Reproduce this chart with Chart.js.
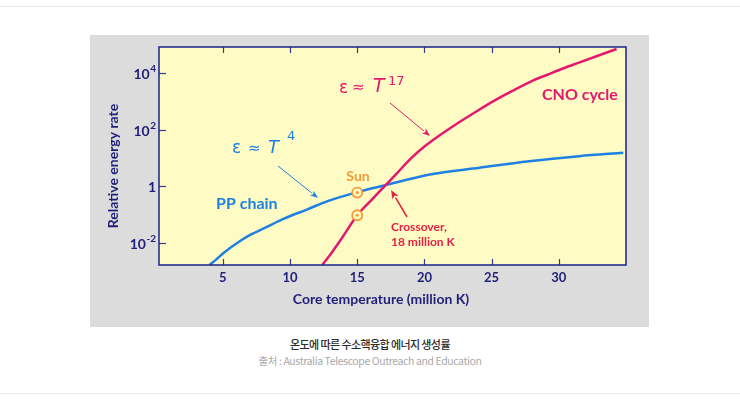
<!DOCTYPE html>
<html><head><meta charset="utf-8">
<script src="https://cdn.jsdelivr.net/npm/chart.js@4.4.1/dist/chart.umd.min.js"></script>
<style>
html,body{margin:0;padding:0;background:#fff;width:740px;height:399px;overflow:hidden;position:relative;}
.rule{position:absolute;left:0;width:740px;height:1px;background:#e6e6e6;}
#box{position:absolute;left:90px;top:35px;width:559px;height:292px;background:#dcdcdc;}
#cap1{position:absolute;left:0;width:740px;top:336px;text-align:center;font:500 11px 'Noto Sans CJK KR',sans-serif;letter-spacing:-0.6px;color:#2a2a2a;}
#cap2{position:absolute;left:0;width:740px;top:353px;text-align:center;font:10.5px 'Noto Sans CJK KR','Noto Sans',sans-serif;letter-spacing:-0.4px;color:#aaa;}
</style></head>
<body>
<div class="rule" style="top:6px"></div>
<div class="rule" style="top:393px"></div>
<div id="box"><canvas id="c" width="559" height="292"></canvas></div>
<div id="cap1">온도에 따른 수소핵융합 에너지 생성률</div>
<div id="cap2">출처 : Australia Telescope Outreach and Education</div>
<script>
// ---- data ----
const tempTicks = [5, 10, 15, 20, 25, 30];
const rateTicks = [0.01, 1, 100, 10000];
const rateTickBase = ['10', '1', '10', '10'];
const rateTickExp = ['-2', '', '2', '4'];
const ppTemp = [4.0, 4.5, 5.1, 6.2, 7.1, 8.2, 9.5, 11.3, 12.8, 14.9, 17.0, 20.4, 24.1, 27.8, 31.5, 34.8];
const ppLog10 = [-2.79, -2.60, -2.35, -1.97, -1.71, -1.46, -1.16, -0.82, -0.53, -0.23, 0.02, 0.41, 0.65, 0.88, 1.06, 1.18];
const cnoTemp = [12.4, 13.0, 13.8, 15.0, 16.0, 17.1, 18.0, 19.0, 20.0, 21.6, 24.1, 25.3, 26.6, 28.1, 29.1, 30.3, 31.5, 34.3];
const cnoLog10 = [-2.79, -2.42, -1.88, -1.03, -0.52, 0.03, 0.48, 0.98, 1.40, 1.95, 2.71, 3.05, 3.38, 3.74, 3.93, 4.16, 4.37, 4.85];
const sunTemp = [15, 15];
const sunLog10 = [-0.23, -1.03];

const toPts = (xs, ls) => xs.map((x, i) => ({x: x, y: Math.pow(10, ls[i])}));

const NAVY = '#1f1f78';
const BLUE = '#1e80e2';
const MAG = '#e5176f';
const RED = '#e61f45';
const ORANGE = '#f59a38';
const OX = 90, OY = 35; // page offset of canvas

function arrow(ctx, x1, y1, x2, y2, color, w, hl, hw) {
  x1 -= OX; x2 -= OX; y1 -= OY; y2 -= OY;
  const a = Math.atan2(y2 - y1, x2 - x1);
  const bx = x2 - hl * Math.cos(a), by = y2 - hl * Math.sin(a);
  ctx.strokeStyle = color; ctx.fillStyle = color; ctx.lineWidth = w;
  ctx.beginPath(); ctx.moveTo(x1, y1); ctx.lineTo(bx, by); ctx.stroke();
  ctx.beginPath();
  ctx.moveTo(x2, y2);
  ctx.lineTo(bx + hw * Math.sin(a), by - hw * Math.cos(a));
  ctx.lineTo(bx + hl*0.25*Math.cos(a), by + hl*0.25*Math.sin(a));
  ctx.lineTo(bx - hw * Math.sin(a), by + hw * Math.cos(a));
  ctx.closePath(); ctx.fill();
}
function txt(ctx, s, x, y, font, color, align) {
  ctx.font = font; ctx.fillStyle = color; ctx.textAlign = align || 'left'; ctx.textBaseline = 'middle';
  ctx.fillText(s, x - OX, y - OY);
}

const frame = {
  id: 'frame',
  beforeDatasetsDraw(chart) {
    const {ctx, chartArea: a} = chart;
    ctx.save();
    ctx.fillStyle = '#fefcc4';
    ctx.fillRect(a.left, a.top, a.width, a.height);
    ctx.restore();
  },
  afterDatasetsDraw(chart) {
    const {ctx, chartArea: a, scales} = chart;
    ctx.save();
    // inward tick marks
    ctx.strokeStyle = '#3a3a88'; ctx.lineWidth = 1.2;
    tempTicks.forEach(v => {
      const x = Math.round(scales.x.getPixelForValue(v)) + 0.5;
      ctx.beginPath(); ctx.moveTo(x, a.bottom); ctx.lineTo(x, a.bottom - 6); ctx.stroke();
      ctx.beginPath(); ctx.moveTo(x, a.top); ctx.lineTo(x, a.top + 6); ctx.stroke();
    });
    rateTicks.forEach((v, i) => {
      const y = Math.round(scales.y.getPixelForValue(v)) + 0.5;
      ctx.beginPath(); ctx.moveTo(a.left, y); ctx.lineTo(a.left + 7, y); ctx.stroke();
      // y tick label with superscript exponent
      const right = a.left - 3;
      ctx.fillStyle = NAVY; ctx.textBaseline = 'middle'; ctx.textAlign = 'right';
      let ex = rateTickExp[i];
      ctx.font = 'bold 10px Lato';
      const ew = ex ? ctx.measureText(ex).width : 0;
      if (ex) ctx.fillText(ex.replace('-', '‑'), right, y - 5);
      ctx.font = 'bold 14px Lato';
      ctx.fillText(rateTickBase[i], right - ew - (ex ? 0.5 : 0), y + 1);
    });
    // frame
    ctx.strokeStyle = '#24308c'; ctx.lineWidth = 1.6;
    ctx.strokeRect(a.left, a.top, a.width, a.height);

    // annotations
    txt(ctx, 'ε', 232, 149, '17px "DejaVu Sans"', BLUE);
    txt(ctx, '≈', 248, 149, '15px "DejaVu Sans"', BLUE);
    txt(ctx, 'T', 268, 148, 'italic 18px "DejaVu Sans"', BLUE);
    txt(ctx, '4', 287, 137, '13px "DejaVu Sans"', BLUE);
    txt(ctx, 'ε', 339, 89, '17px "DejaVu Sans"', MAG);
    txt(ctx, '≈', 352, 88, '15px "DejaVu Sans"', MAG);
    txt(ctx, 'T', 373, 87, 'italic 19px "DejaVu Sans"', MAG);
    txt(ctx, '17', 388, 82, '13px "DejaVu Sans"', MAG);

    arrow(ctx, 278, 166, 318, 198, BLUE, 1, 8, 3);
    arrow(ctx, 390, 103, 430, 136, MAG, 1, 8, 3);
    arrow(ctx, 407, 217, 391, 190, RED, 1.5, 9, 3.5);

    txt(ctx, 'Sun', 358, 176, 'bold 14px Lato', ORANGE, 'center');
    txt(ctx, 'PP chain', 216, 204, 'bold 16px Lato', BLUE);
    txt(ctx, 'CNO cycle', 542, 95, 'bold 16px Lato', MAG);
    txt(ctx, 'Crossover,', 391, 227, 'bold 12px Lato', RED);
    txt(ctx, '18 million K', 391, 242, 'bold 12px Lato', RED);

    // axis titles
    txt(ctx, 'Core temperature (million K)', 381, 299, 'bold 14px Lato', NAVY, 'center');
    ctx.save();
    ctx.translate(113 - OX, 166 - OY);
    ctx.rotate(-Math.PI / 2);
    ctx.font = 'bold 14px Lato'; ctx.fillStyle = NAVY; ctx.textAlign = 'center'; ctx.textBaseline = 'middle';
    ctx.fillText('Relative energy rate', 0, 0);
    ctx.restore();
    ctx.restore();
  }
};

new Chart(document.getElementById('c'), {
  type: 'scatter',
  data: {
    datasets: [
      {label: 'Sun', data: toPts(sunTemp, sunLog10), order: 0, showLine: false,
       pointStyle: 'circle', pointRadius: 5, pointBorderWidth: 1.8,
       pointBackgroundColor: '#fefcc4', pointBorderColor: ORANGE},
      {label: 'Sun core', data: toPts(sunTemp, sunLog10), order: -1, showLine: false,
       pointStyle: 'circle', pointRadius: 1.6, pointBorderWidth: 0,
       pointBackgroundColor: ORANGE, pointBorderColor: ORANGE},
      {label: 'PP chain', data: toPts(ppTemp, ppLog10), order: 2, showLine: true,
       borderColor: BLUE, borderWidth: 2.5, pointRadius: 0, cubicInterpolationMode: 'monotone'},
      {label: 'CNO cycle', data: toPts(cnoTemp, cnoLog10), order: 1, showLine: true,
       borderColor: MAG, borderWidth: 2.5, pointRadius: 0, cubicInterpolationMode: 'monotone'}
    ]
  },
  options: {
    responsive: false, animation: false, devicePixelRatio: 1,
    layout: {padding: {left: 0, top: 12, right: 23, bottom: 0}},
    plugins: {legend: {display: false}, tooltip: {enabled: false}},
    scales: {
      x: {
        type: 'linear', min: 0.25, max: 35,
        grid: {display: false, drawTicks: false}, border: {display: false},
        afterBuildTicks: s => { s.ticks = tempTicks.map(v => ({value: v})); },
        afterFit: s => { s.height = 62; },
        ticks: {color: NAVY, font: {family: 'Lato', weight: 'bold', size: 13}, padding: 5, maxRotation: 0}
      },
      y: {
        type: 'logarithmic', min: Math.pow(10, -2.79), max: Math.pow(10, 4.92),
        grid: {display: false, drawTicks: false}, border: {display: false},
        afterBuildTicks: s => { s.ticks = rateTicks.map(v => ({value: v})); },
        afterFit: s => { s.width = 69; },
        ticks: {display: false}
      }
    }
  },
  plugins: [frame]
});
</script>
</body></html>
